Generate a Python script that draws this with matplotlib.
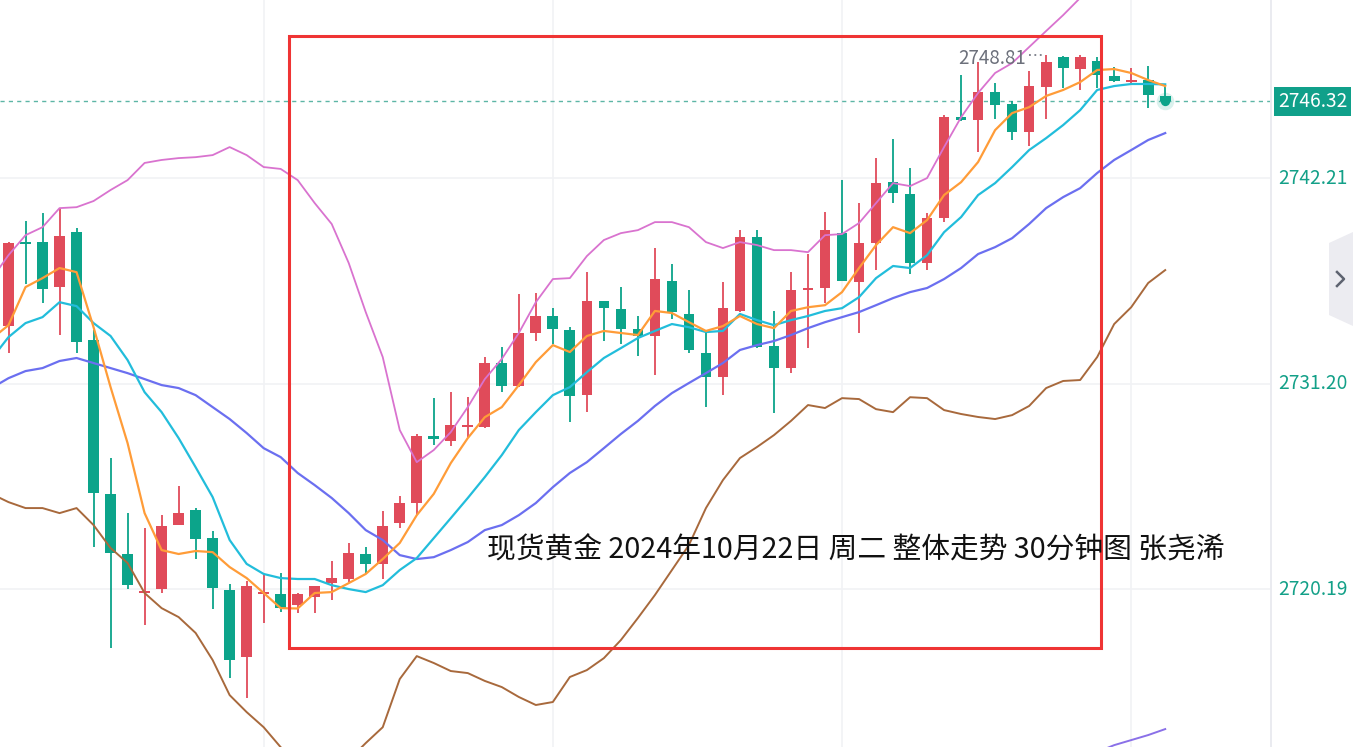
import numpy as np
import matplotlib
matplotlib.use('Agg')
import matplotlib.pyplot as plt
from matplotlib.patches import Rectangle, Polygon

plt.rcParams['font.family'] = ['Noto Sans CJK SC', 'DejaVu Sans']

# 30 分钟 K 线（红涨绿跌）
opens = [2734.28, 2738.78, 2738.78, 2736.37, 2739.31, 2733.53, 2725.29, 2722.07, 2719.98, 2720.19,
         2723.62, 2724.42, 2722.92, 2720.14, 2716.54, 2719.93, 2719.93, 2719.33, 2719.76, 2720.51,
         2720.73, 2722.07, 2721.54, 2723.73, 2724.80, 2728.39, 2728.12, 2728.87, 2728.87, 2732.30,
         2731.07, 2733.91, 2734.82, 2734.07, 2730.58, 2735.62, 2735.19, 2734.12, 2733.75, 2736.70,
         2734.93, 2732.84, 2731.54, 2735.09, 2739.04, 2733.21, 2732.03, 2736.21, 2736.32, 2739.26,
         2736.64, 2738.73, 2741.99, 2741.36, 2737.66, 2740.07, 2745.47, 2745.32, 2746.82, 2746.18,
         2744.67, 2747.08, 2748.72, 2748.05, 2748.48, 2747.68, 2747.38, 2747.46, 2746.61]
highs = [2738.78, 2739.91, 2740.34, 2740.60, 2739.53, 2734.07, 2727.21, 2724.26, 2723.46, 2724.15,
         2725.71, 2724.53, 2723.30, 2720.46, 2720.62, 2720.94, 2721.05, 2719.98, 2720.35, 2721.70,
         2722.66, 2722.44, 2724.37, 2725.18, 2728.50, 2730.42, 2730.74, 2730.47, 2732.62, 2733.15,
         2736.00, 2736.05, 2735.24, 2734.22, 2737.17, 2735.65, 2736.37, 2734.82, 2738.46, 2737.61,
         2736.21, 2734.02, 2736.64, 2739.42, 2739.42, 2735.09, 2737.17, 2738.14, 2740.39, 2742.10,
         2740.87, 2743.29, 2744.30, 2742.75, 2740.34, 2745.58, 2747.73, 2748.42, 2747.30, 2746.34,
         2747.95, 2748.81, 2748.76, 2748.78, 2748.69, 2748.16, 2748.11, 2748.21, 2747.14]
lows = [2732.84, 2736.54, 2735.51, 2733.80, 2732.84, 2722.44, 2717.03, 2720.19, 2718.26, 2719.98,
        2723.62, 2721.80, 2719.12, 2715.42, 2714.35, 2718.37, 2718.96, 2718.91, 2718.91, 2719.60,
        2720.56, 2721.05, 2720.73, 2723.46, 2724.15, 2727.90, 2727.85, 2728.33, 2728.80, 2730.74,
        2731.00, 2733.48, 2733.32, 2729.14, 2729.67, 2733.48, 2733.32, 2732.68, 2731.65, 2734.66,
        2732.84, 2729.94, 2730.58, 2735.05, 2733.10, 2729.62, 2731.76, 2733.10, 2735.51, 2736.68,
        2733.91, 2737.28, 2740.87, 2737.07, 2737.28, 2739.85, 2745.28, 2743.60, 2745.37, 2744.25,
        2743.93, 2745.37, 2747.03, 2746.93, 2747.03, 2747.35, 2747.30, 2745.96, 2746.07]
closes = [2738.73, 2738.68, 2736.27, 2739.10, 2733.42, 2725.34, 2722.12, 2720.40, 2720.09, 2723.57,
          2724.26, 2722.87, 2720.24, 2716.39, 2720.35, 2720.03, 2719.17, 2719.93, 2720.35, 2720.78,
          2722.12, 2721.54, 2723.57, 2724.80, 2728.39, 2728.23, 2728.98, 2728.98, 2732.30, 2731.07,
          2733.91, 2734.82, 2734.12, 2730.53, 2735.62, 2735.24, 2734.12, 2733.75, 2736.80, 2735.03,
          2733.00, 2731.54, 2735.24, 2739.04, 2733.15, 2732.03, 2736.21, 2736.32, 2739.42, 2736.72,
          2738.73, 2741.94, 2741.41, 2737.66, 2740.07, 2745.47, 2745.32, 2746.82, 2746.12, 2744.67,
          2747.14, 2748.42, 2748.11, 2748.69, 2747.73, 2747.41, 2747.43, 2746.66, 2746.32]

# 均线 / 布林带，从 K 线序号 -1 开始（第一根在画面外）
ma5 = [2733.59, 2734.33, 2736.37, 2736.85, 2737.39, 2737.17, 2734.22, 2731.01, 2728.01, 2724.26,
       2722.28, 2722.07, 2722.23, 2722.17, 2721.37, 2720.78, 2719.98, 2719.17, 2719.15, 2719.98,
       2720.03, 2720.51, 2721.00, 2721.80, 2722.66, 2724.15, 2725.29, 2726.94, 2728.28, 2729.40,
       2729.94, 2731.12, 2732.35, 2733.26, 2732.89, 2733.75, 2734.02, 2733.91, 2733.80, 2735.09,
       2734.98, 2734.49, 2734.02, 2734.28, 2734.82, 2734.39, 2734.17, 2735.09, 2735.29, 2735.40,
       2736.10, 2737.39, 2738.62, 2739.58, 2739.26, 2739.96, 2741.30, 2741.99, 2743.07, 2744.78,
       2745.69, 2746.01, 2746.61, 2746.93, 2747.35, 2748.00, 2748.05, 2747.84, 2747.46, 2747.14]
ma10 = [2732.52, 2733.69, 2734.44, 2734.76, 2735.56, 2735.35, 2734.44, 2733.75, 2732.46, 2730.74,
        2729.67, 2728.28, 2726.72, 2725.12, 2722.82, 2721.54, 2721.00, 2720.78, 2720.73, 2720.73,
        2720.40, 2720.19, 2720.03, 2720.40, 2721.21, 2721.85, 2722.92, 2723.99, 2725.07, 2726.19,
        2727.37, 2728.71, 2729.67, 2730.58, 2731.01, 2731.81, 2732.57, 2733.10, 2733.64, 2734.02,
        2734.39, 2734.22, 2733.96, 2734.02, 2734.93, 2734.60, 2734.33, 2734.60, 2734.82, 2735.09,
        2735.24, 2735.83, 2736.85, 2737.50, 2737.39, 2738.08, 2739.31, 2740.12, 2741.30, 2741.94,
        2742.80, 2743.71, 2744.35, 2745.05, 2745.85, 2746.93, 2747.14, 2747.25, 2747.25, 2747.23]
boll_mid = [2730.96, 2731.49, 2731.87, 2732.03, 2732.41, 2732.57, 2732.30, 2732.03, 2731.76, 2731.44,
            2731.12, 2730.96, 2730.58, 2729.94, 2729.30, 2728.55, 2727.74, 2727.26, 2726.41, 2725.76,
            2725.07, 2724.26, 2723.35, 2722.82, 2722.01, 2721.80, 2721.90, 2722.28, 2722.71, 2723.35,
            2723.62, 2724.15, 2724.80, 2725.65, 2726.41, 2726.99, 2727.74, 2728.50, 2729.20, 2730.00,
            2730.69, 2731.23, 2731.76, 2732.30, 2733.00, 2733.26, 2733.48, 2733.80, 2734.17, 2734.49,
            2734.76, 2735.03, 2735.40, 2735.78, 2736.10, 2736.32, 2736.80, 2737.39, 2738.14, 2738.51,
            2738.99, 2739.75, 2740.60, 2741.19, 2741.67, 2742.48, 2743.18, 2743.71, 2744.25, 2744.62]
boll_up = [2736.80, 2738.08, 2739.15, 2739.58, 2740.60, 2740.65, 2740.98, 2741.57, 2742.10, 2743.02,
           2743.18, 2743.28, 2743.33, 2743.44, 2743.87, 2743.44, 2742.80, 2742.70, 2742.10, 2740.87,
           2739.75, 2737.66, 2735.03, 2732.62, 2728.71, 2726.99, 2727.64, 2728.60, 2729.94, 2731.44,
           2732.52, 2733.91, 2735.56, 2736.80, 2736.85, 2738.03, 2738.89, 2739.26, 2739.42, 2739.85,
           2739.85, 2739.58, 2738.78, 2738.46, 2738.78, 2738.62, 2738.35, 2738.35, 2738.24, 2739.15,
           2739.21, 2739.80, 2740.87, 2741.94, 2741.78, 2742.21, 2743.87, 2745.47, 2746.77, 2747.84,
           2748.37, 2749.23, 2750.09, 2750.94, 2751.86, 2752.82]
boll_low = [2725.29, 2724.85, 2724.53, 2724.53, 2724.26, 2724.53, 2723.62, 2722.39, 2721.59, 2719.98,
            2719.17, 2718.69, 2717.84, 2716.39, 2714.51, 2713.60, 2712.79, 2711.72, 2710.92, 2710.39,
            2710.50, 2711.03, 2711.94, 2712.79, 2715.37, 2716.60, 2716.23, 2715.80, 2715.69, 2715.27,
            2714.94, 2714.41, 2713.98, 2714.14, 2715.48, 2715.85, 2716.49, 2717.46, 2718.64, 2719.87,
            2721.21, 2722.55, 2724.53, 2726.03, 2727.21, 2727.80, 2728.44, 2729.20, 2730.05, 2729.89,
            2730.42, 2730.37, 2729.83, 2729.67, 2730.47, 2730.42, 2729.78, 2729.57, 2729.41, 2729.30,
            2729.51, 2730.00, 2730.96, 2731.34, 2731.39, 2732.62, 2734.39, 2735.29, 2736.59, 2737.28]
ma_long = [2711.46, 2711.83, 2712.10, 2712.37, 2712.69]   # 右下角露出的一段，K 线 64..68

price_ticks = [2742.21, 2731.20, 2720.19]
last_price = 2746.32
high_label = 2748.81
title = '现货黄金 2024年10月22日 周二 整体走势 30分钟图 张尧浠'

UP = '#e04b5a'
DOWN = '#0ca48a'
TEAL_TXT = '#13a088'

W, H = 1355, 747
fig = plt.figure(figsize=(W / 100, H / 100), dpi=100)
fig.patch.set_facecolor('white')
ax = fig.add_axes([0, 0, 1270 / W, 1])
ax.set_xlim(-0.5, 74.16)
ax.set_ylim(2711.73, 2751.75)
for s in ax.spines.values():
    s.set_visible(False)
ax.set_xticks([])
ax.set_yticks([])

# 网格
for xg in [15, 32, 49, 66]:
    ax.axvline(xg, color='#f1f2f5', lw=1.2, zorder=0)
for p in price_ticks:
    ax.axhline(p, color='#f1f2f5', lw=1.2, zorder=0)

n = len(opens)
x = np.arange(n)
o = np.array(opens); c = np.array(closes)
hi = np.array(highs); lo = np.array(lows)
cols = [UP if cc >= oo else DOWN for oo, cc in zip(o, c)]
bottom = np.minimum(o, c)
height = np.maximum(np.abs(c - o), 0.09)

ax.vlines(x, lo, hi, colors=cols, lw=1.3, zorder=3)
ax.bar(x, height, bottom=bottom, width=0.63, color=cols, linewidth=0, zorder=4)

xl = np.arange(-1, n)
ax.plot(np.arange(-1, -1 + len(boll_up)), boll_up, color='#d973cf', lw=1.3, zorder=5)
ax.plot(xl, boll_low, color='#a8693c', lw=1.4, zorder=5)
ax.plot(xl, boll_mid, color='#6b6ff0', lw=1.6, zorder=5)
ax.plot(xl, ma10, color='#22bddb', lw=1.6, zorder=6)
ax.plot(xl, ma5, color='#ff9c38', lw=1.6, zorder=7)
ax.plot(np.arange(64, 69), ma_long, color='#8a70e8', lw=1.4, zorder=5)

# 最新价
ax.axhline(last_price, color='#5db6a6', lw=1, ls=(0, (3, 3)), zorder=2)
ax.scatter([n - 1], [last_price], s=160, color=DOWN, alpha=0.15, linewidths=0, zorder=8)
ax.scatter([n - 1], [last_price], s=45, color=DOWN, linewidths=0, zorder=9)

# 最高价标注
ih = int(np.argmax(hi))
ax.plot([ih - 1.0, ih - 0.1], [high_label, high_label], color='#777b86', lw=1.3,
        ls=(0, (1, 2)), zorder=8)
ax.text(ih - 1.2, high_label - 0.18, f'{high_label:.2f}', ha='right', va='center',
        fontsize=13.5, color='#6c707b', zorder=8)

# 红框
rect_x = (16.49, 64.23)
rect_y = (2717.03, 2749.82)
ax.add_patch(Rectangle((rect_x[0], rect_y[0]), rect_x[1] - rect_x[0], rect_y[1] - rect_y[0],
                       fill=False, edgecolor='#ef3434', lw=2.2, zorder=10))

ax.text(28.13, 2722.28, title, ha='left', va='center', fontsize=20.7, color='#111111', zorder=11)

# 右侧价格轴
ytr = ax.get_yaxis_transform()
for p in price_ticks:
    ax.text(1.0062, p, f'{p:.2f}', transform=ytr, ha='left', va='center',
            fontsize=13.8, color=TEAL_TXT, clip_on=False)
ax.text(1.0062, last_price, f'{last_price:.2f}', transform=ytr, ha='left', va='center',
        fontsize=13.8, color='white', clip_on=False,
        bbox=dict(boxstyle='square,pad=0.22', facecolor='#10a08a', edgecolor='none'))

fig.add_artist(plt.Line2D([1271 / W, 1271 / W], [0, 1], color='#e6e8ee', lw=1.2))
tab = [(1329, 243), (1353, 232), (1353, 326), (1329, 315)]
fig.add_artist(Polygon([(px / W, 1 - py / H) for px, py in tab], closed=True,
                       facecolor='#ececf1', edgecolor='none'))
fig.add_artist(plt.Line2D([1337 / W, 1344 / W, 1337 / W],
                          [1 - 272 / H, 1 - 279 / H, 1 - 286 / H], color='#5e6370', lw=1.8))

fig.savefig('out.png', dpi=100)
